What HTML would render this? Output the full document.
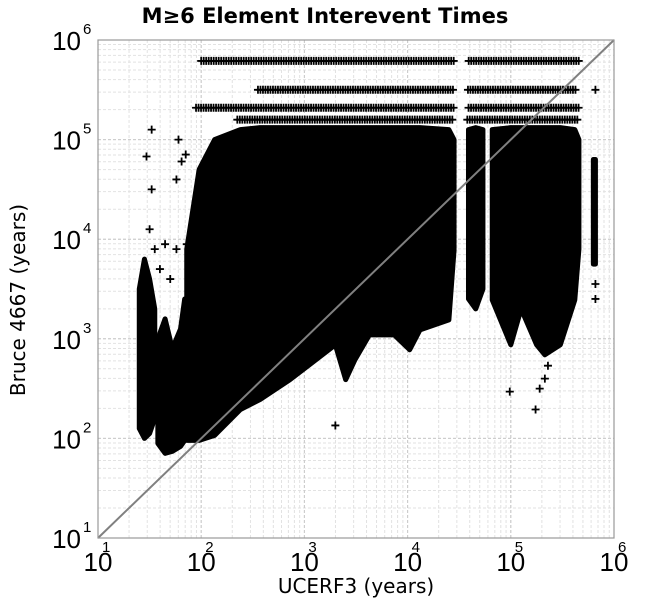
<!DOCTYPE html>
<html><head><meta charset="utf-8"><style>
body{margin:0;background:#fff}
svg{display:block;font-family:"Liberation Sans","DejaVu Sans",sans-serif}
</style></head><body>
<svg id="c" width="650" height="600">
<text x="325" y="23" text-anchor="middle" font-size="21" font-weight="bold" font-family="DejaVu Sans, sans-serif">M≥6 Element Interevent Times</text>
<text transform="translate(25,300) rotate(-90)" text-anchor="middle" font-size="20" font-family="DejaVu Sans, sans-serif">Bruce 4667 (years)</text>
<text x="356" y="593" text-anchor="middle" font-size="20" font-family="DejaVu Sans, sans-serif">UCERF3 (years)</text>
</svg>
<script>
// axis domain (log10 exponents)
const xTicks=[1,2,3,4,5,6];
const yTicks=[1,2,3,4,5,6];
// dense clusters: log10(UCERF3) positions with top/bottom log10(Bruce) envelopes
const clusterAx=[1.40,1.45,1.50,1.55];
const clusterATop=[3.5,3.8,3.6,3.3];
const clusterABot=[2.1,2.0,2.05,2.2];
const clusterBx=[1.58,1.65,1.72,1.80,1.84];
const clusterBTop=[3.0,3.2,2.9,3.1,3.4];
const clusterBBot=[1.95,1.85,1.87,1.92,1.98];
const clusterCx=[1.86,1.98,2.13,2.38,2.57,2.86,3.05,3.30,3.40,3.49,3.63,3.87,3.92,4.02,4.12,4.40,4.45];
const clusterCTop=[3.9,4.7,5.0,5.1,5.12,5.12,5.12,5.12,5.12,5.12,5.12,5.12,5.12,5.12,5.12,5.1,5.0];
const clusterCBot=[1.98,1.98,2.03,2.29,2.39,2.59,2.74,2.94,2.59,2.79,3.04,3.04,2.99,2.89,3.09,3.19,3.89];
const clusterDx=[4.59,4.66,4.73];
const clusterDTop=[5.1,5.12,5.1];
const clusterDBot=[3.4,3.3,3.5];
const clusterEx=[4.82,5.0,5.1,5.25,5.33,5.48,5.62,5.66];
const clusterETop=[5.1,5.12,5.12,5.12,5.12,5.12,5.1,5.0];
const clusterEBot=[3.39,2.94,3.3,2.94,2.84,2.94,3.39,3.9];
const clusterFx=[5.8,5.82];
const clusterFTop=[4.8,4.8];
const clusterFBot=[3.75,3.75];
// horizontal stripes (log10 Bruce) and their x extents
const stripeY=[5.79,5.50,5.32,5.20];
const stripeXStart=[2.0,2.55,1.95,2.35];
const stripeXEnd=[5.68,5.65,5.68,5.66];
const stripeGapStart=4.45, stripeGapEnd=4.57;
// isolated outliers
const outX=[1.52,1.47,1.78,1.81,1.85,1.76,1.52,1.50,1.65,1.76,1.86,1.91,1.55,1.60,1.70,3.30,4.99,5.24,5.33,5.36,5.28,5.82,5.82,5.82];
const outY=[5.10,4.83,5.00,4.78,4.85,4.60,4.50,4.10,3.95,3.90,3.95,3.55,3.90,3.70,3.60,2.13,2.47,2.29,2.60,2.73,2.50,3.55,3.40,5.5];

const svg=document.getElementById('c');
const NS='http://www.w3.org/2000/svg';
const X0=98,X1=614,Y0=538,Y1=40;
const sx=v=>X0+(v-1)/5*(X1-X0);
const sy=v=>Y0-(v-1)/5*(Y0-Y1);
function mk(t,a,p){const e=document.createElementNS(NS,t);for(const k in a)e.setAttribute(k,a[k]);(p||svg).appendChild(e);return e;}
// grid
const grid=mk('g',{});


for(let d=1;d<6;d++)for(let m=1;m<=10;m++){const v=d+Math.log10(m);
 mk('line',{x1:sx(v),x2:sx(v),y1:Y1,y2:Y0,stroke:m==1||m==10?'#ccc':'#e2e2e2','stroke-dasharray':'3,2','stroke-width':1},grid);
 mk('line',{x1:X0,x2:X1,y1:sy(v),y2:sy(v),stroke:m==1||m==10?'#ccc':'#e2e2e2','stroke-dasharray':'3,2','stroke-width':1},grid);}
// clusters
const marks=mk('g',{fill:'#000'});


function cluster(xs,tops,bots,name){
 let pts=xs.map((x,i)=>sx(x)+','+sy(tops[i]));
 for(let i=xs.length-1;i>=0;i--)pts.push(sx(xs[i])+','+sy(bots[i]));
 const p=mk('polygon',{points:pts.join(' '),stroke:'#000','stroke-width':5,'stroke-linejoin':'round'},marks);
 
 
}
cluster(clusterAx,clusterATop,clusterABot,'cluster-a');
cluster(clusterBx,clusterBTop,clusterBBot,'cluster-b');
cluster(clusterCx,clusterCTop,clusterCBot,'cluster-main');
cluster(clusterDx,clusterDTop,clusterDBot,'cluster-d');
cluster(clusterEx,clusterETop,clusterEBot,'cluster-e');
cluster(clusterFx,clusterFTop,clusterFBot,'cluster-f');
function plus(x,y,g){mk('path',{d:`M${x-4},${y}h8M${x},${y-4}v8`,stroke:'#000','stroke-width':1.8},g);}
const stripes=mk('g',{});


stripeY.forEach((y,i)=>{
 for(let px=sx(stripeXStart[i]);px<=sx(stripeXEnd[i]);px+=2.5){
  if(px>sx(stripeGapStart)&&px<sx(stripeGapEnd))continue;
  plus(px,sy(y),stripes);}
});
const outs=mk('g',{});


outX.forEach((x,i)=>plus(sx(x),sy(outY[i]),outs));
// diagonal
const diag=mk('line',{x1:sx(1),y1:sy(1),x2:sx(6),y2:sy(6),stroke:'#808080','stroke-width':2});


// frame
const fr=mk('rect',{x:X0,y:Y1,width:X1-X0,height:Y0-Y1,fill:'none',stroke:'#999','stroke-width':1.2});


// ticks
xTicks.forEach(t=>{
 const g=mk('g',{});
 
 
 const a=mk('text',{x:sx(t),y:571,'text-anchor':'middle','font-size':26},g);a.textContent='10';
 const b=mk('text',{x:sx(t)+4,y:552,'font-size':15},g);b.textContent=String(t);
});
yTicks.forEach(t=>{
 const g=mk('g',{});
 
 
 const a=mk('text',{x:81,y:sy(t)+10,'text-anchor':'end','font-size':26},g);a.textContent='10';
 const b=mk('text',{x:83,y:sy(t)-6,'font-size':15},g);b.textContent=String(t);
});
</script>
</body></html>
